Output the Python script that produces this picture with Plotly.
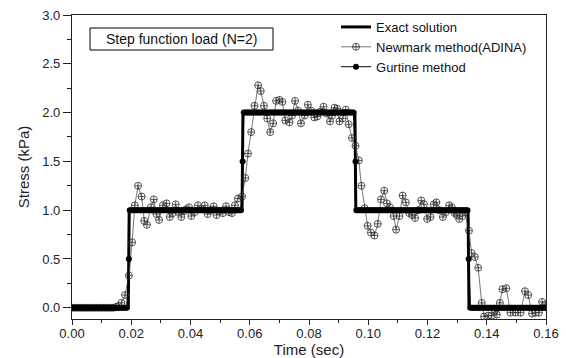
import numpy as np
import plotly.graph_objects as go

# ---------------- data ----------------
# Exact solution (step load), corner points
exact_t = [0.0, 0.0190, 0.0193, 0.0574, 0.0577, 0.0955, 0.0958, 0.1337, 0.1340, 0.160]
exact_v = [0.0, 0.0, 1.0, 1.0, 2.0, 2.0, 1.0, 1.0, 0.0, 0.0]

# Gurtine method: plateaus with a half-value point at each jump
gurt_step_t = [0.0192, 0.0576, 0.0957, 0.1339]
gurt_levels = [0.0, 1.0, 2.0, 1.0, 0.0]
gurt_dt = 0.0005

# Newmark method (ADINA)
newmark_t = [0.000, 0.001, 0.002, 0.003, 0.004, 0.005, 0.006, 0.007, 0.008, 0.009,
             0.010, 0.011, 0.012, 0.013, 0.014, 0.015, 0.0158, 0.0167, 0.0179, 0.0192,
             0.0203, 0.0212, 0.0223, 0.0235, 0.0244, 0.0253, 0.0266, 0.0276, 0.0285, 0.0294,
             0.0307, 0.0319, 0.0330, 0.0340, 0.0350, 0.0360, 0.0369, 0.0378, 0.0386, 0.0395,
             0.0403, 0.0414, 0.0425, 0.0437, 0.0448, 0.0458, 0.0468, 0.0478, 0.0488, 0.0498,
             0.0509, 0.0520, 0.0530, 0.0540, 0.0550, 0.0560, 0.0574, 0.0585, 0.0594, 0.0605,
             0.0616, 0.0628, 0.0637, 0.0648, 0.0659, 0.0669, 0.0679, 0.0689, 0.0700, 0.0710,
             0.0720, 0.0734, 0.0743, 0.0753, 0.0763, 0.0773, 0.0786, 0.0796, 0.0807, 0.0818,
             0.0828, 0.0838, 0.0849, 0.0860, 0.0871, 0.0878, 0.0886, 0.0895, 0.0903, 0.0914,
             0.0924, 0.0934, 0.0945, 0.0957, 0.0968, 0.0977, 0.0988, 0.0998, 0.1009, 0.1021,
             0.1032, 0.1043, 0.1054, 0.1063, 0.1073, 0.1086, 0.1094, 0.1105, 0.1116, 0.1127,
             0.1138, 0.1148, 0.1158, 0.1168, 0.1179, 0.1188, 0.1199, 0.1210, 0.1221, 0.1230,
             0.1240, 0.1252, 0.1262, 0.1273, 0.1282, 0.1292, 0.1299, 0.1307, 0.1318, 0.1326,
             0.1340, 0.1349, 0.1360, 0.1371, 0.1383, 0.1391, 0.1405, 0.1417, 0.1428, 0.1434,
             0.1444, 0.1453, 0.1466, 0.1480, 0.1497, 0.1514, 0.1529, 0.1540, 0.1553, 0.1565,
             0.1576, 0.1587, 0.1598]
newmark_v = [0.00, 0.00, 0.00, 0.00, 0.00, 0.00, 0.00, 0.00, 0.00, 0.00,
             0.00, 0.00, 0.00, 0.00, 0.00, 0.01, 0.02, 0.05, 0.13, 0.33,
             0.67, 1.05, 1.25, 1.14, 0.89, 0.85, 1.03, 1.11, 0.96, 0.90,
             1.05, 1.07, 0.93, 0.97, 1.06, 0.98, 0.93, 0.99, 1.01, 1.03,
             0.94, 0.98, 1.05, 1.01, 1.05, 0.96, 1.00, 1.04, 0.95, 0.99,
             0.97, 1.04, 0.98, 0.97, 1.05, 1.12, 1.14, 1.33, 1.58, 1.80,
             2.07, 2.28, 2.22, 2.07, 1.94, 1.80, 1.89, 2.12, 2.13, 2.11,
             1.92, 1.90, 1.97, 2.12, 2.02, 1.89, 1.97, 2.08, 2.02, 1.95,
             1.96, 2.01, 2.06, 1.99, 1.91, 1.97, 2.05, 2.04, 1.91, 1.94,
             2.03, 1.88, 1.74, 1.66, 1.51, 1.25, 1.02, 0.84, 0.77, 0.74,
             0.86, 1.11, 1.20, 1.07, 1.03, 0.94, 0.80, 0.94, 1.15, 1.08,
             0.97, 0.95, 0.92, 1.00, 1.10, 1.06, 0.91, 0.93, 1.06, 1.08,
             1.00, 0.93, 0.98, 1.05, 1.03, 0.97, 0.95, 0.91, 0.94, 0.98,
             0.79, 0.56, 0.52, 0.41, 0.05, -0.09, -0.08, -0.08, -0.03, -0.07,
             0.05, 0.19, 0.20, -0.05, -0.05, -0.05, 0.17, 0.13, -0.06, -0.05,
             -0.05, 0.06, 0.03]

x_ticks = [0.00, 0.02, 0.04, 0.06, 0.08, 0.10, 0.12, 0.14, 0.16]
x_tick_labels = ["0.00", "0.02", "0.04", "0.06", "0.08", "0.10", "0.12", "0.14", "0.16"]
y_ticks = [0.0, 0.5, 1.0, 1.5, 2.0, 2.5, 3.0]
y_tick_labels = ["0.0", "0.5", "1.0", "1.5", "2.0", "2.5", "3.0"]

# build Gurtine series from the read plateaus
grid = np.arange(0.0, 0.16 + 1e-9, gurt_dt)
keep = np.ones(len(grid), dtype=bool)
for s in gurt_step_t:
    keep &= np.abs(grid - s) > gurt_dt * 0.6
gt = list(grid[keep]) + list(gurt_step_t)
gv = []
for t in grid[keep]:
    k = int(np.searchsorted(gurt_step_t, t))
    gv.append(gurt_levels[k])
for i, s in enumerate(gurt_step_t):
    gv.append((gurt_levels[i] + gurt_levels[i + 1]) / 2)
order = np.argsort(gt)
gurt_t = [gt[i] for i in order]
gurt_v = [gv[i] for i in order]

FONT = "Arial, Liberation Sans, sans-serif"

fig = go.Figure()
fig.add_trace(go.Scatter(x=exact_t, y=exact_v, mode="lines", name="Exact solution",
                         line=dict(color="black", width=3)))
fig.add_trace(go.Scatter(x=newmark_t, y=newmark_v, mode="lines+markers",
                         name="Newmark method(ADINA)",
                         line=dict(color="#555555", width=0.8),
                         marker=dict(symbol="circle-cross-open", size=7,
                                     color="#333333", line=dict(width=0.8, color="#333333"))))
fig.add_trace(go.Scatter(x=gurt_t, y=gurt_v, mode="lines+markers", name="Gurtine method",
                         line=dict(color="black", width=1),
                         marker=dict(symbol="circle", size=6, color="black")))

axis_common = dict(showline=True, mirror=True, linecolor="#222222", linewidth=1.3,
                   ticks="outside", tickcolor="#222222", tickwidth=1,
                   showgrid=False, zeroline=False, automargin=False,
                   tickfont=dict(family=FONT, size=13, color="#222222"))

fig.update_xaxes(range=[0.0, 0.16], tickvals=x_ticks, ticktext=x_tick_labels,
                 ticklen=5, ticklabelstandoff=-3,
                 title=dict(text="Time (sec)", font=dict(family=FONT, size=15, color="#222222"),
                            standoff=0),
                 minor=dict(ticks="outside", dtick=0.01, ticklen=3, tickcolor="#222222"),
                 **axis_common)
fig.update_yaxes(range=[-0.115, 3.0], tickvals=y_ticks, ticktext=y_tick_labels,
                 ticklen=8,
                 title=dict(text="Stress (kPa)", font=dict(family=FONT, size=15, color="#222222"),
                            standoff=8),
                 minor=dict(ticks="outside", dtick=0.25, ticklen=4, tickcolor="#222222"),
                 **axis_common)

fig.add_shape(type="rect", xref="paper", yref="paper",
              x0=(90 - 72) / 474, x1=(273 - 72) / 474,
              y0=1 - (50 - 15) / 304, y1=1 - (28 - 15) / 304,
              line=dict(color="black", width=1), fillcolor="white")
fig.add_annotation(xref="paper", yref="paper", x=(181 - 72) / 474, y=1 - (39 - 15) / 304,
                   text="Step function load (N=2)", showarrow=False,
                   font=dict(family=FONT, size=14, color="#111111"),
                   xanchor="center", yanchor="middle")

fig.update_layout(
    width=566, height=358,
    margin=dict(l=72, r=20, t=15, b=39),
    paper_bgcolor="white", plot_bgcolor="white",
    showlegend=True,
    legend=dict(x=0.557, y=1.01, xanchor="left", yanchor="top",
                bgcolor="rgba(0,0,0,0)", borderwidth=0,
                font=dict(family=FONT, size=13, color="#111111"),
                tracegroupgap=0, itemwidth=30),
    font=dict(family=FONT),
)

fig.write_html("out.html")
